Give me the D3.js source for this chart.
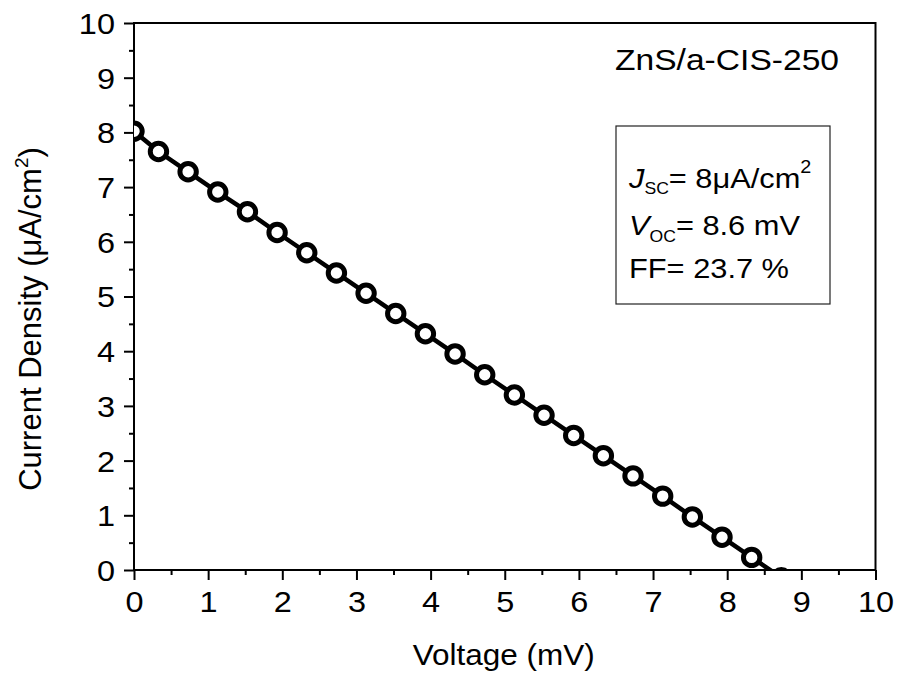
<!DOCTYPE html>
<html>
<head>
<meta charset="utf-8">
<script src="https://cdn.jsdelivr.net/npm/d3@7"></script>
<style>
  body { margin: 0; background: #fff; }
  text { font-family: "Liberation Sans", Arial, sans-serif; fill: #000; }
</style>
</head>
<body>
<svg id="chart" width="899" height="682"></svg>
<script>
// J-V measurement of the ZnS/a-CIS-250 cell
const voltage = [0, 0.33, 0.73, 1.13, 1.53, 1.93, 2.33, 2.73, 3.13, 3.53, 3.93, 4.33,
                 4.73, 5.13, 5.53, 5.93, 6.33, 6.73, 7.13, 7.53, 7.93, 8.33, 8.73];
const current = [8.02, 7.65, 7.28, 6.91, 6.55, 6.17, 5.80, 5.43, 5.06, 4.69, 4.32, 3.95,
                 3.57, 3.20, 2.83, 2.46, 2.09, 1.72, 1.35, 0.97, 0.60, 0.23, -0.14];
const xTicks = [0, 1, 2, 3, 4, 5, 6, 7, 8, 9, 10];
const yTicks = [0, 1, 2, 3, 4, 5, 6, 7, 8, 9, 10];
const sampleName = "ZnS/a-CIS-250";
const jscValue = "8";
const vocValue = "8.6";
const ffValue = "23.7";

const svg = d3.select("#chart");
const W = 899, H = 682;
const margin = { left: 134, right: 23.5, top: 23, bottom: 112 };
const wide = 1.12; // horizontal glyph stretch of the labels

const x = d3.scaleLinear().domain([0, 10]).range([margin.left, W - margin.right]);
const y = d3.scaleLinear().domain([0, 10]).range([H - margin.bottom, margin.top]);

svg.append("rect").attr("width", W).attr("height", H).attr("fill", "#fff");

const minorX = d3.range(0.5, 10, 1);
const minorY = d3.range(0.5, 10, 1);

// bottom axis: major + minor ticks
const gx = svg.append("g").attr("transform", `translate(0,${y(0)})`);
gx.call(d3.axisBottom(x).tickValues(xTicks).tickSize(10).tickPadding(11).tickFormat(d3.format("d")));
const gxm = svg.append("g").attr("transform", `translate(0,${y(0)})`);
gxm.call(d3.axisBottom(x).tickValues(minorX).tickSize(5).tickFormat(""));

// left axis: major + minor ticks
const gy = svg.append("g").attr("transform", `translate(${x(0)},0)`);
gy.call(d3.axisLeft(y).tickValues(yTicks).tickSize(10).tickPadding(7).tickFormat(d3.format("d")));
const gym = svg.append("g").attr("transform", `translate(${x(0)},0)`);
gym.call(d3.axisLeft(y).tickValues(minorY).tickSize(5).tickFormat(""));

[gx, gxm, gy, gym].forEach(g => {
  g.attr("font-family", null).attr("font-size", null);
  g.select(".domain").remove();
  g.selectAll(".tick line").attr("stroke", "#000").attr("stroke-width", 2);
  g.selectAll(".tick text")
    .attr("font-size", 29)
    .attr("fill", "#000")
    .attr("transform", `scale(${wide},1)`);
});
gy.selectAll(".tick text").attr("dy", "0.36em");

// plot frame
svg.append("rect")
  .attr("x", x(0)).attr("y", y(10))
  .attr("width", x(10) - x(0)).attr("height", y(0) - y(10))
  .attr("fill", "none").attr("stroke", "#000").attr("stroke-width", 2);

// data, clipped to the plot area
svg.append("clipPath").attr("id", "plotClip")
  .append("rect")
  .attr("x", x(0)).attr("y", y(10))
  .attr("width", x(10) - x(0)).attr("height", y(0) - y(10));

const pts = voltage.map((v, i) => ({ v, j: current[i] }));
const plot = svg.append("g").attr("clip-path", "url(#plotClip)");

plot.append("path")
  .datum(pts)
  .attr("fill", "none")
  .attr("stroke", "#000")
  .attr("stroke-width", 4.5)
  .attr("d", d3.line().x(d => x(d.v)).y(d => y(d.j)));

plot.selectAll("circle")
  .data(pts)
  .join("circle")
  .attr("cx", d => x(d.v))
  .attr("cy", d => y(d.j))
  .attr("r", 8.2)
  .attr("fill", "#fff")
  .attr("stroke", "#000")
  .attr("stroke-width", 5);

// helper: a text block placed at (px, py) and stretched horizontally
function label(px, py, sx) {
  return svg.append("g")
    .attr("transform", `translate(${px},${py}) scale(${sx},1)`)
    .append("text");
}

// axis titles
label((x(0) + x(10)) / 2 - 1, 665, 1.05)
  .attr("text-anchor", "middle").attr("font-size", 30)
  .text("Voltage (mV)");

const yl = svg.append("text")
  .attr("transform", "translate(40.5,319) rotate(-90)")
  .attr("text-anchor", "middle").attr("font-size", 31);
yl.append("tspan").text("Current Density (μA/cm");
yl.append("tspan").attr("font-size", 19).attr("dy", -13).text("2");
yl.append("tspan").attr("dy", 13).text(")");

// sample name
label(615, 70, 1.12).attr("font-size", 30).text(sampleName);

// parameter box
svg.append("rect")
  .attr("x", 616).attr("y", 126).attr("width", 214).attr("height", 178)
  .attr("fill", "none").attr("stroke", "#222").attr("stroke-width", 1.2);

const l1 = label(629, 188, 1.1).attr("font-size", 28);
l1.append("tspan").attr("font-style", "italic").text("J");
l1.append("tspan").attr("font-size", 16).attr("dy", 6).text("SC");
l1.append("tspan").attr("dy", -6).text(`= ${jscValue}μA/cm`);
l1.append("tspan").attr("font-size", 18).attr("dy", -15).text("2");

const l2 = label(629, 235, 1.1).attr("font-size", 28);
l2.append("tspan").attr("font-style", "italic").text("V");
l2.append("tspan").attr("font-size", 16).attr("dy", 7).text("OC");
l2.append("tspan").attr("dy", -7).text(`= ${vocValue} mV`);

label(629, 278, 1.1).attr("font-size", 28).text(`FF= ${ffValue} %`);
</script>
</body>
</html>
